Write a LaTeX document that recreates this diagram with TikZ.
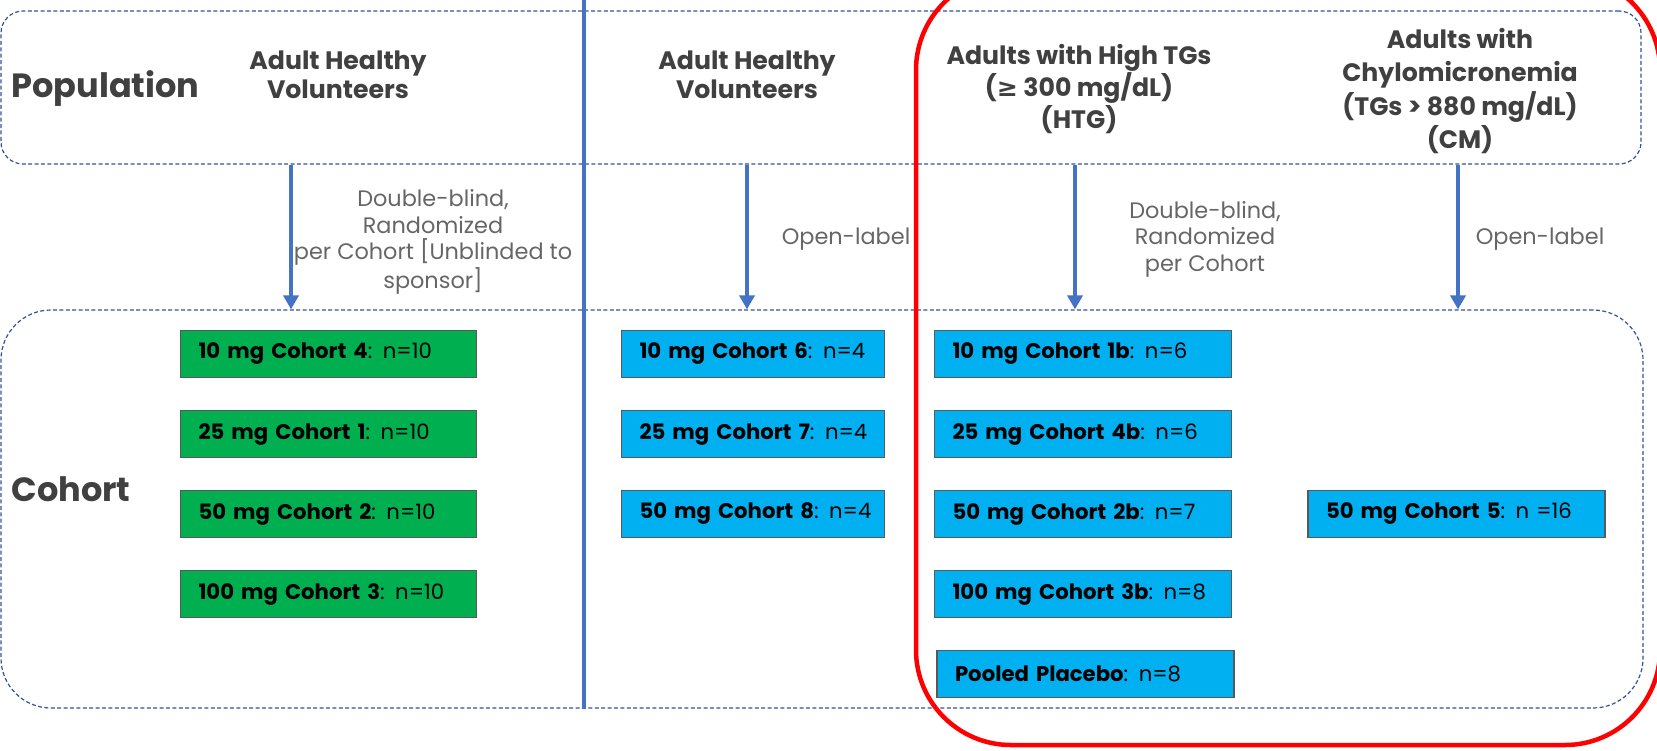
\documentclass[tikz,border=0pt]{standalone}
\usepackage{fontspec}
\setmainfont{Poppins}
\newfontfamily\symfont{DejaVu Sans}
\usetikzlibrary{positioning, arrows.meta}
\definecolor{dashblue}{HTML}{2F5597}
\definecolor{lineblue}{HTML}{4472C4}
\definecolor{boxgreen}{HTML}{00B050}
\definecolor{boxblue}{HTML}{00B0F0}
\definecolor{boxline}{HTML}{595959}
\definecolor{headgray}{HTML}{404040}
\definecolor{notegray}{HTML}{666666}
\newcommand\dose[2]{\mbox{\textbf{#1}: #2}}

\begin{document}
\begin{tikzpicture}[x=0.5pt,y=-0.5pt,node distance=40pt,on grid,
    region/.style={draw=dashblue,line width=0.6pt,dash pattern=on 2pt off 1.2pt},
    head/.style={text=headgray,font=\bfseries\fontsize{12.6}{14.3}\selectfont,align=center},
    side/.style={text=headgray,font=\bfseries\fontsize{16.8}{19}\selectfont,anchor=west,inner sep=0pt},
    note/.style={text=notegray,font=\fontsize{11.2}{13.3}\selectfont,align=center},
    arm/.style={lineblue,line width=2pt,-{Triangle[width=7.5pt,length=7pt]}},
    cohort/.style={draw=boxline,line width=0.8pt,text width=#1,inner xsep=9pt,
        minimum height=23.5pt,align=left,font=\fontsize{10.6}{13}\selectfont},
    hvbox/.style={cohort=130pt,fill=boxgreen},
    olbox/.style={cohort=113.5pt,fill=boxblue},
    patbox/.style={cohort=130.5pt,fill=boxblue}]
    \useasboundingbox (0,0) rectangle (1657,750);

    \node[region,rounded corners=11pt,minimum width=820pt,minimum height=76.5pt] (pop) at (821,87.5) {};
    \node[region,rounded corners=25pt,minimum width=821pt,minimum height=199pt] (coh) at (822,509) {};

    \coordinate (split) at (584,0);
    \draw[lineblue,line width=1.75pt] (split) -- (split |- coh.south);

    \node[side] (poplabel) at (11,89) {Population};
    \node[side] (cohlabel) at (11,489) {Cohort};

    \node[head] (hv1) at (338,75) {Adult Healthy\\Volunteers};
    \node[head] (hv2) at (747,75) {Adult Healthy\\Volunteers};
    \node[head] (htg) at (1079,89) {Adults with High TGs\\({\symfont ≥} 300 mg/dL)\\(HTG)};
    \node[head,font=\bfseries\fontsize{12.6}{16.6}\selectfont] (cm) at (1460,91) {Adults with\\Chylomicronemia\\(TGs > 880 mg/dL)\\(CM)};

    \coordinate (armA) at (291,0);
    \coordinate (armB) at (747,0);
    \coordinate (armC) at (1075,0);
    \coordinate (armD) at (1458,0);
    \path[arm]
        (armA |- pop.south) edge (armA |- coh.north)
        (armB |- pop.south) edge (armB |- coh.north)
        (armC |- pop.south) edge (armC |- coh.north)
        (armD |- pop.south) edge (armD |- coh.north);

    \node[note] (blindA) at (433,242) {Double-blind,\\Randomized\\per Cohort [Unblinded to\\sponsor]};
    \node[note] (openB) at (846,239) {Open-label};
    \node[note] (blindC) at (1205,239) {Double-blind,\\Randomized\\per Cohort};
    \node[note] (openD) at (1540,239) {Open-label};

    \node[hvbox] (c4) at (328.5,354) {\dose{10 mg Cohort 4}{n=10}};
    \node[hvbox] (c1) [below=of c4] {\dose{25 mg Cohort 1}{n=10}};
    \node[hvbox] (c2) [below=of c1] {\dose{50 mg Cohort 2}{n=10}};
    \node[hvbox] (c3) [below=of c2] {\dose{100 mg Cohort 3}{n=10}};

    \node[olbox] (c6) at (753,354) {\dose{10 mg Cohort 6}{n=4}};
    \node[olbox] (c7) [below=of c6] {\dose{25 mg Cohort 7}{n=4}};
    \node[olbox] (c8) [below=of c7] {\dose{50 mg Cohort 8}{n=4}};

    \node[patbox] (c1b) at (1083,354) {\dose{10 mg Cohort 1b}{n=6}};
    \node[patbox] (c4b) [below=of c1b] {\dose{25 mg Cohort 4b}{n=6}};
    \node[patbox] (c2b) [below=of c4b] {\dose{50 mg Cohort 2b}{n=7}};
    \node[patbox] (c3b) [below=of c2b] {\dose{100 mg Cohort 3b}{n=8}};
    \node[patbox] (pbo) [below=of c3b,xshift=1.25pt] {\dose{Pooled Placebo}{n=8}};
    \node[patbox] (c5) [right=186.75pt of c2b] {\dose{50 mg Cohort 5}{n =16}};

    \draw[red,line width=2.25pt,rounded corners=47.5pt] (916,-25) rectangle (1660,745);
\end{tikzpicture}
\end{document}
